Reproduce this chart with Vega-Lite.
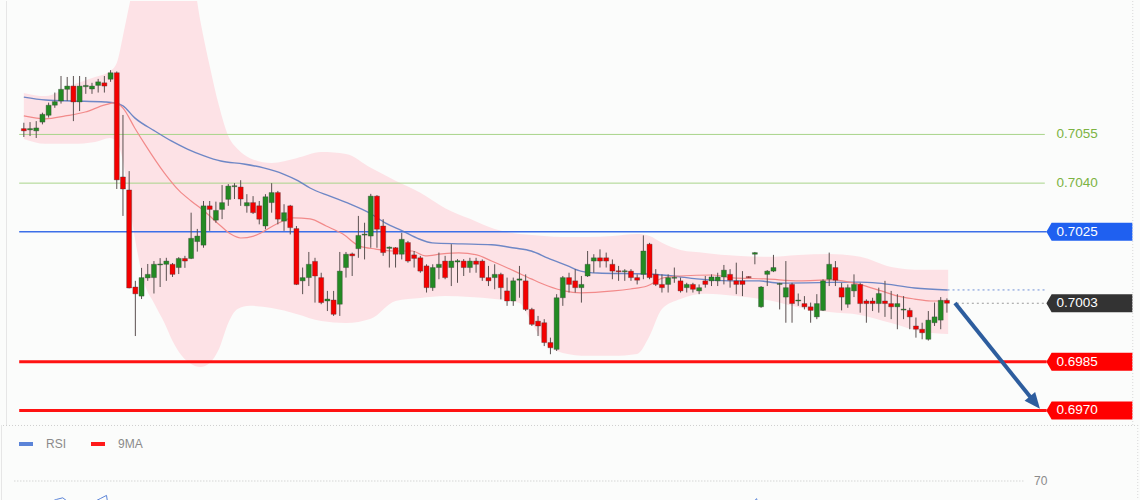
{
"$schema":"https://vega.github.io/schema/vega-lite/v6.json",
"background":"#fbfcfb",
"padding":0,
"spacing":0,
"bounds":"flush",
"config":{"view":{"stroke":null},"font":"Liberation Sans"},
"resolve":{"scale":{"x":"independent","y":"independent","color":"independent"},"legend":{"color":"independent"}},
"datasets":{
"one":[{"k":1}],
"candles":[
{"i":0,"o":0.70568,"h":0.70586,"l":0.70542,"c":0.70561},
{"i":1,"o":0.70564,"h":0.70588,"l":0.70545,"c":0.70568},
{"i":2,"o":0.70561,"h":0.70591,"l":0.70539,"c":0.70570},
{"i":3,"o":0.70588,"h":0.70617,"l":0.70581,"c":0.70612},
{"i":4,"o":0.70609,"h":0.70648,"l":0.70602,"c":0.70640},
{"i":5,"o":0.70640,"h":0.70679,"l":0.70632,"c":0.70651},
{"i":6,"o":0.70653,"h":0.70730,"l":0.70645,"c":0.70689},
{"i":7,"o":0.70689,"h":0.70727,"l":0.70653,"c":0.70699},
{"i":8,"o":0.70699,"h":0.70730,"l":0.70591,"c":0.70650},
{"i":9,"o":0.70650,"h":0.70730,"l":0.70622,"c":0.70699},
{"i":10,"o":0.70697,"h":0.70727,"l":0.70675,"c":0.70701},
{"i":11,"o":0.70690,"h":0.70709,"l":0.70675,"c":0.70699},
{"i":12,"o":0.70701,"h":0.70721,"l":0.70679,"c":0.70712},
{"i":13,"o":0.70709,"h":0.70730,"l":0.70679,"c":0.70699},
{"i":14,"o":0.70720,"h":0.70748,"l":0.70712,"c":0.70740},
{"i":15,"o":0.70740,"h":0.70744,"l":0.70382,"c":0.70410},
{"i":16,"o":0.70419,"h":0.70610,"l":0.70299,"c":0.70382},
{"i":17,"o":0.70379,"h":0.70437,"l":0.70076,"c":0.70077},
{"i":18,"o":0.70080,"h":0.70099,"l":0.69929,"c":0.70059},
{"i":19,"o":0.70052,"h":0.70139,"l":0.70043,"c":0.70109},
{"i":20,"o":0.70108,"h":0.70151,"l":0.70099,"c":0.70119},
{"i":21,"o":0.70109,"h":0.70160,"l":0.70060,"c":0.70150},
{"i":22,"o":0.70148,"h":0.70169,"l":0.70080,"c":0.70151},
{"i":23,"o":0.70150,"h":0.70170,"l":0.70099,"c":0.70160},
{"i":24,"o":0.70150,"h":0.70154,"l":0.70111,"c":0.70119},
{"i":25,"o":0.70140,"h":0.70172,"l":0.70120,"c":0.70168},
{"i":26,"o":0.70168,"h":0.70176,"l":0.70139,"c":0.70160},
{"i":27,"o":0.70168,"h":0.70309,"l":0.70166,"c":0.70230},
{"i":28,"o":0.70220,"h":0.70259,"l":0.70189,"c":0.70237},
{"i":29,"o":0.70209,"h":0.70345,"l":0.70201,"c":0.70330},
{"i":30,"o":0.70330,"h":0.70345,"l":0.70253,"c":0.70319},
{"i":31,"o":0.70286,"h":0.70343,"l":0.70278,"c":0.70316},
{"i":32,"o":0.70319,"h":0.70394,"l":0.70289,"c":0.70340},
{"i":33,"o":0.70350,"h":0.70397,"l":0.70330,"c":0.70391},
{"i":34,"o":0.70389,"h":0.70400,"l":0.70351,"c":0.70392},
{"i":35,"o":0.70388,"h":0.70409,"l":0.70330,"c":0.70351},
{"i":36,"o":0.70330,"h":0.70366,"l":0.70309,"c":0.70340},
{"i":37,"o":0.70340,"h":0.70360,"l":0.70305,"c":0.70309},
{"i":38,"o":0.70330,"h":0.70345,"l":0.70273,"c":0.70289},
{"i":39,"o":0.70268,"h":0.70366,"l":0.70258,"c":0.70358},
{"i":40,"o":0.70340,"h":0.70400,"l":0.70309,"c":0.70371},
{"i":41,"o":0.70371,"h":0.70376,"l":0.70273,"c":0.70289},
{"i":42,"o":0.70283,"h":0.70335,"l":0.70253,"c":0.70309},
{"i":43,"o":0.70330,"h":0.70333,"l":0.70242,"c":0.70263},
{"i":44,"o":0.70260,"h":0.70268,"l":0.70086,"c":0.70088},
{"i":45,"o":0.70099,"h":0.70140,"l":0.70058,"c":0.70109},
{"i":46,"o":0.70109,"h":0.70188,"l":0.70083,"c":0.70150},
{"i":47,"o":0.70159,"h":0.70170,"l":0.70032,"c":0.70114},
{"i":48,"o":0.70109,"h":0.70124,"l":0.70027,"c":0.70032},
{"i":49,"o":0.70037,"h":0.70068,"l":0.70006,"c":0.70043},
{"i":50,"o":0.70040,"h":0.70068,"l":0.69991,"c":0.69996},
{"i":51,"o":0.70027,"h":0.70188,"l":0.69991,"c":0.70129},
{"i":52,"o":0.70140,"h":0.70188,"l":0.70109,"c":0.70181},
{"i":53,"o":0.70182,"h":0.70186,"l":0.70114,"c":0.70176},
{"i":54,"o":0.70198,"h":0.70299,"l":0.70170,"c":0.70239},
{"i":55,"o":0.70240,"h":0.70278,"l":0.70165,"c":0.70243},
{"i":56,"o":0.70237,"h":0.70367,"l":0.70201,"c":0.70360},
{"i":57,"o":0.70360,"h":0.70363,"l":0.70201,"c":0.70258},
{"i":58,"o":0.70268,"h":0.70289,"l":0.70176,"c":0.70186},
{"i":59,"o":0.70199,"h":0.70205,"l":0.70140,"c":0.70203},
{"i":60,"o":0.70201,"h":0.70203,"l":0.70140,"c":0.70181},
{"i":61,"o":0.70181,"h":0.70247,"l":0.70165,"c":0.70227},
{"i":62,"o":0.70217,"h":0.70222,"l":0.70155,"c":0.70160},
{"i":63,"o":0.70179,"h":0.70191,"l":0.70140,"c":0.70168},
{"i":64,"o":0.70170,"h":0.70176,"l":0.70124,"c":0.70129},
{"i":65,"o":0.70145,"h":0.70150,"l":0.70063,"c":0.70078},
{"i":66,"o":0.70078,"h":0.70150,"l":0.70068,"c":0.70140},
{"i":67,"o":0.70140,"h":0.70186,"l":0.70104,"c":0.70150},
{"i":68,"o":0.70160,"h":0.70176,"l":0.70104,"c":0.70109},
{"i":69,"o":0.70140,"h":0.70212,"l":0.70083,"c":0.70160},
{"i":70,"o":0.70157,"h":0.70166,"l":0.70093,"c":0.70161},
{"i":71,"o":0.70160,"h":0.70166,"l":0.70114,"c":0.70140},
{"i":72,"o":0.70140,"h":0.70170,"l":0.70124,"c":0.70160},
{"i":73,"o":0.70160,"h":0.70170,"l":0.70124,"c":0.70150},
{"i":74,"o":0.70160,"h":0.70165,"l":0.70099,"c":0.70109},
{"i":75,"o":0.70109,"h":0.70145,"l":0.70083,"c":0.70099},
{"i":76,"o":0.70109,"h":0.70150,"l":0.70073,"c":0.70119},
{"i":77,"o":0.70119,"h":0.70124,"l":0.70042,"c":0.70078},
{"i":78,"o":0.70068,"h":0.70109,"l":0.70022,"c":0.70037},
{"i":79,"o":0.70037,"h":0.70109,"l":0.70022,"c":0.70099},
{"i":80,"o":0.70101,"h":0.70145,"l":0.70047,"c":0.70105},
{"i":81,"o":0.70099,"h":0.70119,"l":0.70006,"c":0.70011},
{"i":82,"o":0.70011,"h":0.70016,"l":0.69960,"c":0.69965},
{"i":83,"o":0.69975,"h":0.69991,"l":0.69929,"c":0.69960},
{"i":84,"o":0.69970,"h":0.69981,"l":0.69898,"c":0.69909},
{"i":85,"o":0.69909,"h":0.69924,"l":0.69873,"c":0.69893},
{"i":86,"o":0.69888,"h":0.70058,"l":0.69883,"c":0.70047},
{"i":87,"o":0.70047,"h":0.70114,"l":0.70022,"c":0.70109},
{"i":88,"o":0.70109,"h":0.70124,"l":0.70063,"c":0.70088},
{"i":89,"o":0.70099,"h":0.70135,"l":0.70063,"c":0.70078},
{"i":90,"o":0.70078,"h":0.70114,"l":0.70032,"c":0.70088},
{"i":91,"o":0.70114,"h":0.70191,"l":0.70111,"c":0.70150},
{"i":92,"o":0.70160,"h":0.70181,"l":0.70124,"c":0.70170},
{"i":93,"o":0.70170,"h":0.70196,"l":0.70140,"c":0.70160},
{"i":94,"o":0.70170,"h":0.70186,"l":0.70140,"c":0.70160},
{"i":95,"o":0.70150,"h":0.70165,"l":0.70104,"c":0.70129},
{"i":96,"o":0.70130,"h":0.70145,"l":0.70099,"c":0.70127},
{"i":97,"o":0.70127,"h":0.70135,"l":0.70099,"c":0.70130},
{"i":98,"o":0.70129,"h":0.70135,"l":0.70099,"c":0.70109},
{"i":99,"o":0.70109,"h":0.70119,"l":0.70088,"c":0.70101},
{"i":100,"o":0.70119,"h":0.70239,"l":0.70104,"c":0.70191},
{"i":101,"o":0.70212,"h":0.70216,"l":0.70104,"c":0.70109},
{"i":102,"o":0.70119,"h":0.70135,"l":0.70083,"c":0.70088},
{"i":103,"o":0.70088,"h":0.70119,"l":0.70063,"c":0.70078},
{"i":104,"o":0.70088,"h":0.70119,"l":0.70063,"c":0.70109},
{"i":105,"o":0.70107,"h":0.70140,"l":0.70093,"c":0.70110},
{"i":106,"o":0.70099,"h":0.70109,"l":0.70063,"c":0.70068},
{"i":107,"o":0.70078,"h":0.70093,"l":0.70063,"c":0.70088},
{"i":108,"o":0.70088,"h":0.70093,"l":0.70063,"c":0.70073},
{"i":109,"o":0.70068,"h":0.70088,"l":0.70058,"c":0.70078},
{"i":110,"o":0.70099,"h":0.70114,"l":0.70078,"c":0.70088},
{"i":111,"o":0.70099,"h":0.70119,"l":0.70083,"c":0.70111},
{"i":112,"o":0.70099,"h":0.70124,"l":0.70083,"c":0.70111},
{"i":113,"o":0.70111,"h":0.70148,"l":0.70088,"c":0.70132},
{"i":114,"o":0.70119,"h":0.70135,"l":0.70078,"c":0.70101},
{"i":115,"o":0.70099,"h":0.70155,"l":0.70058,"c":0.70088},
{"i":116,"o":0.70099,"h":0.70129,"l":0.70052,"c":0.70088},
{"i":117,"o":0.70112,"h":0.70113,"l":0.70108,"c":0.70109},
{"i":118,"o":0.70181,"h":0.70188,"l":0.70150,"c":0.70186},
{"i":119,"o":0.70019,"h":0.70083,"l":0.70016,"c":0.70080},
{"i":120,"o":0.70119,"h":0.70132,"l":0.70083,"c":0.70129},
{"i":121,"o":0.70129,"h":0.70179,"l":0.70126,"c":0.70140},
{"i":122,"o":0.70088,"h":0.70093,"l":0.70011,"c":0.70091},
{"i":123,"o":0.70049,"h":0.70160,"l":0.69970,"c":0.70078},
{"i":124,"o":0.70088,"h":0.70093,"l":0.69970,"c":0.70029},
{"i":125,"o":0.70037,"h":0.70060,"l":0.70022,"c":0.70040},
{"i":126,"o":0.70029,"h":0.70052,"l":0.70011,"c":0.70019},
{"i":127,"o":0.70019,"h":0.70032,"l":0.69970,"c":0.70008},
{"i":128,"o":0.69988,"h":0.70058,"l":0.69981,"c":0.70029},
{"i":129,"o":0.70008,"h":0.70104,"l":0.70006,"c":0.70099},
{"i":130,"o":0.70104,"h":0.70186,"l":0.70083,"c":0.70150},
{"i":131,"o":0.70140,"h":0.70160,"l":0.70083,"c":0.70101},
{"i":132,"o":0.70078,"h":0.70093,"l":0.70008,"c":0.70049},
{"i":133,"o":0.70027,"h":0.70088,"l":0.70016,"c":0.70078},
{"i":134,"o":0.70068,"h":0.70119,"l":0.70049,"c":0.70088},
{"i":135,"o":0.70088,"h":0.70093,"l":0.70001,"c":0.70029},
{"i":136,"o":0.70037,"h":0.70042,"l":0.69970,"c":0.70029},
{"i":137,"o":0.70037,"h":0.70047,"l":0.70006,"c":0.70029},
{"i":138,"o":0.70029,"h":0.70078,"l":0.70001,"c":0.70060},
{"i":139,"o":0.70037,"h":0.70099,"l":0.69988,"c":0.70029},
{"i":140,"o":0.70029,"h":0.70068,"l":0.69981,"c":0.70019},
{"i":141,"o":0.70019,"h":0.70058,"l":0.69950,"c":0.70029},
{"i":142,"o":0.70009,"h":0.70052,"l":0.69981,"c":0.70012},
{"i":143,"o":0.70008,"h":0.70016,"l":0.69950,"c":0.69988},
{"i":144,"o":0.69960,"h":0.69986,"l":0.69924,"c":0.69950},
{"i":145,"o":0.69950,"h":0.69970,"l":0.69919,"c":0.69939},
{"i":146,"o":0.69919,"h":0.70006,"l":0.69915,"c":0.69978},
{"i":147,"o":0.69970,"h":0.70032,"l":0.69960,"c":0.69988},
{"i":148,"o":0.69978,"h":0.70049,"l":0.69950,"c":0.70039},
{"i":149,"o":0.70039,"h":0.70045,"l":0.70001,"c":0.70030}
],
"band":[
{"i":0,"up":0.70678,"lo":0.70536},{"i":3.5,"up":0.70668,"lo":0.70521},{"i":7.8,"up":0.70702,"lo":0.70521},{"i":11.5,"up":0.70727,"lo":0.70527},{"i":13.9,"up":0.70745,"lo":0.70539},{"i":15,"up":0.70770,"lo":0.70527},{"i":16,"up":0.70853,"lo":0.70468},{"i":17,"up":0.70946,"lo":0.70345},{"i":18,"up":0.71038,"lo":0.70222},{"i":19.5,"up":0.71146,"lo":0.70089},{"i":21,"up":0.71183,"lo":0.70031},{"i":22.7,"up":0.71207,"lo":0.69969},{"i":24,"up":0.71192,"lo":0.69914},{"i":25.5,"up":0.71146,"lo":0.69868},{"i":27,"up":0.71069,"lo":0.69843},{"i":28.5,"up":0.70899,"lo":0.69834},{"i":30,"up":0.70761,"lo":0.69846},{"i":31.5,"up":0.70638,"lo":0.69889},{"i":33,"up":0.70545,"lo":0.69969},{"i":34.5,"up":0.70505,"lo":0.70012},{"i":36.5,"up":0.70477,"lo":0.70022},{"i":40,"up":0.70462,"lo":0.70015},{"i":44,"up":0.70477,"lo":0.69997},{"i":48,"up":0.70496,"lo":0.69975},{"i":52,"up":0.70490,"lo":0.69969},{"i":56,"up":0.70447,"lo":0.69982},{"i":60,"up":0.70407,"lo":0.70037},{"i":64,"up":0.70370,"lo":0.70046},{"i":68,"up":0.70323,"lo":0.70052},{"i":72,"up":0.70290,"lo":0.70049},{"i":76,"up":0.70259,"lo":0.70043},{"i":80,"up":0.70243,"lo":0.70031},{"i":82,"up":0.70240,"lo":0.69969},{"i":84,"up":0.70237,"lo":0.69908},{"i":87,"up":0.70234,"lo":0.69877},{"i":91,"up":0.70234,"lo":0.69868},{"i":95,"up":0.70237,"lo":0.69868},{"i":99,"up":0.70243,"lo":0.69874},{"i":101,"up":0.70237,"lo":0.69929},{"i":103,"up":0.70216,"lo":0.70012},{"i":106,"up":0.70194,"lo":0.70043},{"i":110,"up":0.70185,"lo":0.70059},{"i":115,"up":0.70176,"lo":0.70052},{"i":120,"up":0.70173,"lo":0.70040},{"i":125,"up":0.70179,"lo":0.70018},{"i":130,"up":0.70182,"lo":0.70003},{"i":135,"up":0.70173,"lo":0.69994},{"i":140,"up":0.70142,"lo":0.69969},{"i":145,"up":0.70133,"lo":0.69942},{"i":149.2,"up":0.70133,"lo":0.69935}
],
"ma1":[
{"i":0,"v":0.70665},{"i":3.5,"v":0.70656},{"i":7.8,"v":0.70653},{"i":13.1,"v":0.70650},{"i":14.7,"v":0.70647},{"i":16,"v":0.70638},{"i":17.9,"v":0.70601},{"i":21.1,"v":0.70561},{"i":23.8,"v":0.70530},{"i":26.4,"v":0.70505},{"i":29.1,"v":0.70484},{"i":31.8,"v":0.70468},{"i":35.5,"v":0.70459},{"i":38.7,"v":0.70447},{"i":41.9,"v":0.70428},{"i":44.3,"v":0.70407},{"i":46.2,"v":0.70385},{"i":49.4,"v":0.70360},{"i":52.6,"v":0.70336},{"i":55.8,"v":0.70308},{"i":58.4,"v":0.70277},{"i":61.1,"v":0.70253},{"i":63.8,"v":0.70228},{"i":65.9,"v":0.70216},{"i":70.7,"v":0.70213},{"i":75.5,"v":0.70210},{"i":79.2,"v":0.70200},{"i":81.9,"v":0.70191},{"i":84.6,"v":0.70169},{"i":87.8,"v":0.70145},{"i":89.9,"v":0.70129},{"i":92.6,"v":0.70123},{"i":100.6,"v":0.70120},{"i":104.8,"v":0.70114},{"i":108.6,"v":0.70105},{"i":113.9,"v":0.70099},{"i":118.7,"v":0.70099},{"i":121.9,"v":0.70092},{"i":134.7,"v":0.70095},{"i":137.9,"v":0.70092},{"i":143.8,"v":0.70077},{"i":149.1,"v":0.70071}
],
"ma2":[
{"i":0,"v":0.70607},{"i":3.5,"v":0.70598},{"i":6.7,"v":0.70607},{"i":9.9,"v":0.70619},{"i":13.1,"v":0.70641},{"i":14.7,"v":0.70647},{"i":16,"v":0.70631},{"i":17.9,"v":0.70570},{"i":19.5,"v":0.70521},{"i":22.7,"v":0.70431},{"i":25.1,"v":0.70376},{"i":27,"v":0.70345},{"i":29.1,"v":0.70314},{"i":31.8,"v":0.70268},{"i":33.4,"v":0.70243},{"i":35,"v":0.70231},{"i":37.1,"v":0.70237},{"i":38.2,"v":0.70246},{"i":40.8,"v":0.70274},{"i":43.5,"v":0.70293},{"i":46.2,"v":0.70290},{"i":48.8,"v":0.70268},{"i":51.5,"v":0.70243},{"i":54.2,"v":0.70206},{"i":56.8,"v":0.70197},{"i":59.5,"v":0.70191},{"i":62.7,"v":0.70191},{"i":64.8,"v":0.70176},{"i":67.5,"v":0.70182},{"i":70.2,"v":0.70185},{"i":73.1,"v":0.70179},{"i":75.5,"v":0.70160},{"i":79.2,"v":0.70129},{"i":81.9,"v":0.70105},{"i":84.6,"v":0.70083},{"i":87.2,"v":0.70068},{"i":89.9,"v":0.70062},{"i":95.2,"v":0.70068},{"i":97.9,"v":0.70074},{"i":100.6,"v":0.70083},{"i":103.2,"v":0.70108},{"i":105.9,"v":0.70114},{"i":111.2,"v":0.70117},{"i":114.4,"v":0.70108},{"i":119.8,"v":0.70105},{"i":125.1,"v":0.70099},{"i":130.4,"v":0.70102},{"i":134.7,"v":0.70089},{"i":138.4,"v":0.70068},{"i":141.1,"v":0.70052},{"i":143.8,"v":0.70043},{"i":146.4,"v":0.70037},{"i":149.1,"v":0.70037}
],
"levels":[
{"p":0.7055,"t":"0.7055","kind":"target"},
{"p":0.7040,"t":"0.7040","kind":"target"},
{"p":0.7025,"t":"0.7025","kind":"resistance"},
{"p":0.7003,"t":"0.7003","kind":"price"},
{"p":0.6985,"t":"0.6985","kind":"support"},
{"p":0.6970,"t":"0.6970","kind":"support"}
],
"arrow":[{"i":150.3,"p":0.70031},{"i":162.6,"p":0.69738}],
"head":[{"i":163.2,"p":0.69724}],
"rsi":[
{"i":0,"v":52},{"i":1,"v":50},{"i":2,"v":51},{"i":3,"v":53},{"i":4,"v":55},{"i":5,"v":57},{"i":6,"v":58.5},{"i":7,"v":59.5},{"i":8,"v":56.5},{"i":9,"v":56},{"i":10,"v":55},{"i":11,"v":55.5},{"i":12,"v":57},{"i":13,"v":59},{"i":14,"v":61},{"i":15,"v":35},{"i":16,"v":31},{"i":20,"v":36},{"i":30,"v":48},{"i":45,"v":38},{"i":60,"v":46},{"i":75,"v":44},{"i":86,"v":50},{"i":100,"v":53},{"i":110,"v":50},{"i":116,"v":52},{"i":117,"v":54},{"i":118,"v":59},{"i":119,"v":48},{"i":130,"v":51},{"i":140,"v":45},{"i":149,"v":49}
]
},
"vconcat":[
{
"width":1140,"height":424,
"layer":[
{"data":{"name":"band"},"mark":{"type":"area","color":"#fde2e6","clip":true,"interpolate":"monotone"},
 "encoding":{"x":{"field":"i","type":"quantitative","scale":{"domain":[-2.88,179.52],"nice":false,"zero":false},"axis":null},
 "y":{"field":"up","type":"quantitative","scale":{"domain":[0.69655,0.70961],"nice":false,"zero":false},"axis":null},
 "y2":{"field":"lo"}}},
{"data":{"name":"levels"},"transform":[{"filter":"datum.kind == 'target'"}],"mark":{"type":"rule","color":"#a8d48a","strokeWidth":1},
 "encoding":{"x":{"datum":-0.75,"type":"quantitative","scale":{"domain":[-2.88,179.52],"nice":false,"zero":false},"axis":null},"x2":{"datum":164.8},
 "y":{"field":"p","type":"quantitative","scale":{"domain":[0.69655,0.70961],"nice":false,"zero":false},"axis":null}}},
{"data":{"name":"levels"},"transform":[{"filter":"datum.kind == 'resistance'"}],"mark":{"type":"rule","color":"#3c6fe8","strokeWidth":1.5},
 "encoding":{"x":{"datum":-0.75,"type":"quantitative","scale":{"domain":[-2.88,179.52],"nice":false,"zero":false},"axis":null},"x2":{"datum":165.1},
 "y":{"field":"p","type":"quantitative","scale":{"domain":[0.69655,0.70961],"nice":false,"zero":false},"axis":null}}},
{"data":{"name":"levels"},"transform":[{"filter":"datum.kind == 'support'"}],"mark":{"type":"rule","color":"#ff1212","strokeWidth":3},
 "encoding":{"x":{"datum":-0.75,"type":"quantitative","scale":{"domain":[-2.88,179.52],"nice":false,"zero":false},"axis":null},"x2":{"datum":165.1},
 "y":{"field":"p","type":"quantitative","scale":{"domain":[0.69655,0.70961],"nice":false,"zero":false},"axis":null}}},
{"data":{"name":"levels"},"transform":[{"filter":"datum.kind == 'price'"}],"mark":{"type":"rule","color":"#9a9a9a","strokeWidth":1,"strokeDash":[2,3]},
 "encoding":{"x":{"datum":150.6,"type":"quantitative","scale":{"domain":[-2.88,179.52],"nice":false,"zero":false},"axis":null},"x2":{"datum":164.8},
 "y":{"field":"p","type":"quantitative","scale":{"domain":[0.69655,0.70961],"nice":false,"zero":false},"axis":null}}},
{"data":{"name":"ma1"},"transform":[{"filter":"datum.i > 149"}],"mark":{"type":"rule","color":"#6f8fd6","strokeWidth":1,"strokeDash":[2,3]},
 "encoding":{"x":{"field":"i","type":"quantitative","scale":{"domain":[-2.88,179.52],"nice":false,"zero":false},"axis":null},"x2":{"datum":164.8},
 "y":{"field":"v","type":"quantitative","scale":{"domain":[0.69655,0.70961],"nice":false,"zero":false},"axis":null}}},
{"data":{"name":"ma1"},"mark":{"type":"line","color":"#5577c0","strokeWidth":1.4,"opacity":0.85,"interpolate":"monotone","clip":true},
 "encoding":{"x":{"field":"i","type":"quantitative","scale":{"domain":[-2.88,179.52],"nice":false,"zero":false},"axis":null},
 "y":{"field":"v","type":"quantitative","scale":{"domain":[0.69655,0.70961],"nice":false,"zero":false},"axis":null}}},
{"data":{"name":"ma2"},"mark":{"type":"line","color":"#f28a8a","strokeWidth":1.2,"interpolate":"monotone","clip":true},
 "encoding":{"x":{"field":"i","type":"quantitative","scale":{"domain":[-2.88,179.52],"nice":false,"zero":false},"axis":null},
 "y":{"field":"v","type":"quantitative","scale":{"domain":[0.69655,0.70961],"nice":false,"zero":false},"axis":null}}},
{"data":{"name":"candles"},"mark":{"type":"rule","color":"#5a5050","strokeWidth":1},
 "encoding":{"x":{"field":"i","type":"quantitative","scale":{"domain":[-2.88,179.52],"nice":false,"zero":false},"axis":null},
 "y":{"field":"l","type":"quantitative","scale":{"domain":[0.69655,0.70961],"nice":false,"zero":false},"axis":null},
 "y2":{"field":"h"}}},
{"data":{"name":"candles"},"mark":{"type":"bar","width":5,"stroke":"#3a3a3a","strokeWidth":0.5,"strokeOpacity":0.7},
 "encoding":{"x":{"field":"i","type":"quantitative","scale":{"domain":[-2.88,179.52],"nice":false,"zero":false},"axis":null},
 "y":{"field":"o","type":"quantitative","scale":{"domain":[0.69655,0.70961],"nice":false,"zero":false},"axis":null},
 "y2":{"field":"c"},
 "color":{"condition":{"test":"datum.c >= datum.o","value":"#238a23"},"value":"#f40000"}}},
{"data":{"name":"arrow"},"mark":{"type":"line","color":"#2d5d9e","strokeWidth":4},
 "encoding":{"x":{"field":"i","type":"quantitative","scale":{"domain":[-2.88,179.52],"nice":false,"zero":false},"axis":null},
 "y":{"field":"p","type":"quantitative","scale":{"domain":[0.69655,0.70961],"nice":false,"zero":false},"axis":null}}},
{"data":{"name":"head"},"mark":{"type":"point","shape":"M1,0L-1,-0.85L-1,0.85Z","size":256,"angle":51,"filled":true,"color":"#2d5d9e","opacity":1,"strokeWidth":0},
 "encoding":{"x":{"field":"i","type":"quantitative","scale":{"domain":[-2.88,179.52],"nice":false,"zero":false},"axis":null},
 "y":{"field":"p","type":"quantitative","scale":{"domain":[0.69655,0.70961],"nice":false,"zero":false},"axis":null}}},
{"data":{"name":"levels"},"transform":[{"filter":"datum.kind != 'target'"}],"mark":{"type":"point","shape":"M-4.78,0L-4.2,-1L4.78,-1L4.78,1L-4.2,1Z","size":324,"filled":true,"opacity":1,"strokeWidth":0},
 "encoding":{"x":{"datum":172,"type":"quantitative","scale":{"domain":[-2.88,179.52],"nice":false,"zero":false},"axis":null},
 "y":{"field":"p","type":"quantitative","scale":{"domain":[0.69655,0.70961],"nice":false,"zero":false},"axis":null},
 "color":{"field":"kind","type":"nominal","scale":{"domain":["resistance","price","support"],"range":["#1f60f0","#333333","#ff0000"]},"legend":null}}},
{"data":{"name":"levels"},"mark":{"type":"text","align":"left","baseline":"middle","fontSize":13.5,"font":"Liberation Sans"},
 "encoding":{"x":{"datum":166.7,"type":"quantitative","scale":{"domain":[-2.88,179.52],"nice":false,"zero":false},"axis":null},
 "y":{"field":"p","type":"quantitative","scale":{"domain":[0.69655,0.70961],"nice":false,"zero":false},"axis":null},
 "text":{"field":"t"},
 "color":{"condition":{"test":"datum.kind == 'target'","value":"#7cb342"},"value":"#ffffff"}}},
{"data":{"name":"one"},"mark":{"type":"rule","color":"#d8d8d8","strokeDash":[1,2]},
 "encoding":{"x":{"datum":179.0,"type":"quantitative","scale":{"domain":[-2.88,179.52],"nice":false,"zero":false},"axis":null}}},
{"data":{"name":"one"},"mark":{"type":"rule","color":"#e6e6e6","strokeWidth":1},
 "encoding":{"x":{"datum":-2.8,"type":"quantitative","scale":{"domain":[-2.88,179.52],"nice":false,"zero":false},"axis":null}}}
]
},
{
"width":1140,"height":76,
"layer":[
{"data":{"name":"one"},"mark":{"type":"rule","color":"#cfcfcf","strokeDash":[1,2]},
 "encoding":{"y":{"datum":104.7,"type":"quantitative","scale":{"domain":[57.5,105],"nice":false,"zero":false},"axis":null}}},
{"data":{"name":"one"},"mark":{"type":"rule","color":"#c4c4c4","strokeDash":[1,2]},
 "encoding":{"x":{"datum":-0.75,"type":"quantitative","scale":{"domain":[-2.88,179.52],"nice":false,"zero":false},"axis":null},"x2":{"datum":161},
 "y":{"datum":70,"type":"quantitative","scale":{"domain":[57.5,105],"nice":false,"zero":false},"axis":null}}},
{"data":{"name":"one"},"mark":{"type":"text","text":"70","align":"left","baseline":"middle","fontSize":12,"color":"#8a8a8a","font":"Liberation Sans"},
 "encoding":{"x":{"datum":162.4,"type":"quantitative","scale":{"domain":[-2.88,179.52],"nice":false,"zero":false},"axis":null},
 "y":{"datum":70,"type":"quantitative","scale":{"domain":[57.5,105],"nice":false,"zero":false},"axis":null}}},
{"data":{"name":"rsi"},"mark":{"type":"line","strokeWidth":1,"clip":true},
 "encoding":{"x":{"field":"i","type":"quantitative","scale":{"domain":[-2.88,179.52],"nice":false,"zero":false},"axis":null},
 "y":{"field":"v","type":"quantitative","scale":{"domain":[57.5,105],"nice":false,"zero":false},"axis":null},
 "color":{"datum":"RSI","type":"nominal","scale":{"domain":["RSI","9MA"],"range":["#5b84d8","#ff1a1a"]},
  "legend":{"orient":"none","legendX":16,"legendY":10,"direction":"horizontal","title":null,"symbolType":"stroke","symbolSize":196,"symbolStrokeWidth":4,"labelFontSize":12,"labelColor":"#8a8a8a","labelFont":"Liberation Sans","labelOffset":11,"columnPadding":16,"padding":0}}}},
{"data":{"name":"one"},"mark":{"type":"rule","color":"#d8d8d8","strokeDash":[1,2]},
 "encoding":{"x":{"datum":179.0,"type":"quantitative","scale":{"domain":[-2.88,179.52],"nice":false,"zero":false},"axis":null}}},
{"data":{"name":"one"},"mark":{"type":"rule","color":"#e6e6e6","strokeWidth":1},
 "encoding":{"x":{"datum":-2.8,"type":"quantitative","scale":{"domain":[-2.88,179.52],"nice":false,"zero":false},"axis":null}}}
]
}
]
}
